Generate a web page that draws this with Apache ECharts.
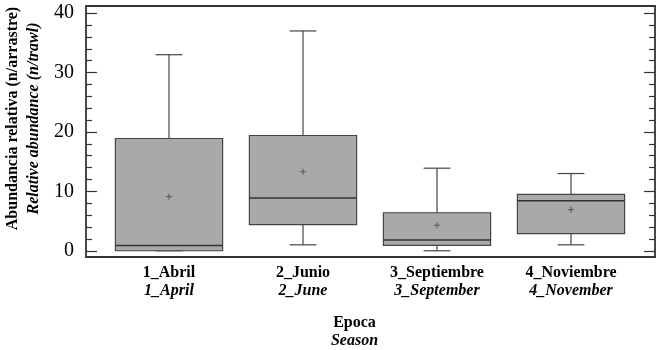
<!DOCTYPE html>
<html>
<head>
<meta charset="utf-8">
<script src="https://cdn.jsdelivr.net/npm/echarts@6/dist/echarts.min.js"></script>
<style>
  html, body { margin: 0; padding: 0; background: #fff; }
  #chart { width: 663px; height: 350px; }
</style>
</head>
<body>
<div id="chart"></div>
<script>
// categorías (español / inglés)
const categories = ['1_Abril', '2_Junio', '3_Septiembre', '4_Noviembre'];
const categoriesEn = ['1_April', '2_June', '3_September', '4_November'];
// estadísticos de cada caja
const whiskerLow = [0, 1, 0, 1];
const q1 = [0, 4.4, 0.9, 2.9];
const medians = [0.9, 8.9, 1.8, 8.4];
const q3 = [18.9, 19.4, 6.4, 9.5];
const whiskerHigh = [33, 37, 13.9, 13];
const means = [9.1, 13.3, 4.3, 6.9];
// ticks del eje y
const majorTicks = [0, 10, 20, 30, 40];
const minorTicks = [2, 4, 6, 8, 12, 14, 16, 18, 22, 24, 26, 28, 32, 34, 36, 38];

const yMin = -1.05;
const yMax = 41.2;
const FONT = 'Liberation Serif';
const LINE = '#444';

const boxData = categories.map((c, i) => [
  i, whiskerLow[i], q1[i], medians[i], q3[i], whiskerHigh[i], means[i]
]);

function renderBox(params, api) {
  const i = api.value(0);
  const band = api.size([1, 0])[0];
  const boxW = band * 0.8;
  const capW = band * 0.2;
  const pLow = api.coord([i, api.value(1)]);
  const pQ1 = api.coord([i, api.value(2)]);
  const pMed = api.coord([i, api.value(3)]);
  const pQ3 = api.coord([i, api.value(4)]);
  const pHigh = api.coord([i, api.value(5)]);
  const pMean = api.coord([i, api.value(6)]);
  const x = pMed[0];
  const st = { stroke: LINE, lineWidth: 1.2, fill: null };
  const line = (x1, y1, x2, y2, style) => ({
    type: 'line',
    shape: { x1: x1, y1: y1, x2: x2, y2: y2 },
    style: style || st
  });
  return {
    type: 'group',
    children: [
      line(x, pQ3[1], x, pHigh[1]),
      line(x, pQ1[1], x, pLow[1]),
      line(x - capW / 2, pHigh[1], x + capW / 2, pHigh[1]),
      line(x - capW / 2, pLow[1], x + capW / 2, pLow[1]),
      {
        type: 'rect',
        shape: { x: x - boxW / 2, y: pQ3[1], width: boxW, height: pQ1[1] - pQ3[1] },
        style: { fill: '#a9a9a9', stroke: LINE, lineWidth: 1.2 }
      },
      line(x - boxW / 2, pMed[1], x + boxW / 2, pMed[1], { stroke: '#333', lineWidth: 1.5 }),
      line(x - 3, pMean[1], x + 3, pMean[1], { stroke: '#555', lineWidth: 1 }),
      line(x, pMean[1] - 3, x, pMean[1] + 3, { stroke: '#555', lineWidth: 1 })
    ]
  };
}

const chart = echarts.init(document.getElementById('chart'));

const frameAxisLine = { show: true, onZero: false, lineStyle: { color: '#333', width: 1.8 } };
const hiddenLine = { show: false, onZero: false };
const noAxis = {
  axisLine: hiddenLine,
  axisTick: { show: false },
  axisLabel: { show: false },
  splitLine: { show: false }
};
const majorTick = { show: true, inside: true, length: 11, customValues: majorTicks, lineStyle: { color: '#333', width: 1.2 } };
const minorTick = { show: true, inside: true, length: 6, customValues: minorTicks, lineStyle: { color: '#333', width: 1.2 } };

const frameRect = { left: 86, right: 8, top: 6, bottom: 93, outerBoundsMode: 'none', containLabel: false };

const option = {
  backgroundColor: '#fff',
  animation: false,
  grid: [
    Object.assign({}, frameRect), // marco + ticks principales
    Object.assign({}, frameRect), // ticks menores
    { left: 102, right: 25, top: 6, bottom: 93, outerBoundsMode: 'none', containLabel: false } // cajas
  ],
  xAxis: [
    {
      gridIndex: 0,
      type: 'value',
      position: 'bottom',
      min: 0,
      max: 1,
      axisLine: frameAxisLine,
      axisTick: { show: false },
      axisLabel: { show: false },
      splitLine: { show: false },
      name: '{a|Epoca}\n{b|Season}',
      nameLocation: 'middle',
      nameGap: 57,
      nameTextStyle: {
        padding: [0, 32, 0, 0],
        rich: {
          a: { fontFamily: FONT, fontSize: 16, fontWeight: 'bold', color: '#000', lineHeight: 18 },
          b: { fontFamily: FONT, fontSize: 16, fontWeight: 'bold', fontStyle: 'italic', color: '#000', lineHeight: 18 }
        }
      }
    },
    {
      gridIndex: 0,
      type: 'value',
      position: 'top',
      min: 0,
      max: 1,
      axisLine: frameAxisLine,
      axisTick: { show: false },
      axisLabel: { show: false },
      splitLine: { show: false }
    },
    Object.assign({ gridIndex: 1, type: 'value', min: 0, max: 1 }, noAxis),
    {
      gridIndex: 2,
      type: 'category',
      data: categories,
      axisLine: hiddenLine,
      axisTick: { show: false },
      axisLabel: {
        margin: 7,
        formatter: function (v, i) {
          return '{a|' + v + '}\n{b|' + categoriesEn[i] + '}';
        },
        rich: {
          a: { fontFamily: FONT, fontSize: 16, fontWeight: 'bold', color: '#000', lineHeight: 18 },
          b: { fontFamily: FONT, fontSize: 16, fontWeight: 'bold', fontStyle: 'italic', color: '#000', lineHeight: 18 }
        }
      }
    }
  ],
  yAxis: [
    {
      gridIndex: 0,
      type: 'value',
      position: 'left',
      min: yMin,
      max: yMax,
      axisLine: frameAxisLine,
      axisTick: majorTick,
      axisLabel: {
        customValues: majorTicks,
        margin: 12,
        fontFamily: FONT,
        fontSize: 20,
        color: '#000'
      },
      splitLine: { show: false },
      name: '{a|Abundancia relativa (n/arrastre)}\n{b|Relative abundance (n/trawl)}',
      nameLocation: 'middle',
      nameGap: 42,
      nameTextStyle: {
        padding: [0, 0, 0, 26],
        rich: {
          a: { fontFamily: FONT, fontSize: 16, fontWeight: 'bold', color: '#000', lineHeight: 21 },
          b: { fontFamily: FONT, fontSize: 16, fontWeight: 'bold', fontStyle: 'italic', color: '#000', lineHeight: 21 }
        }
      }
    },
    {
      gridIndex: 0,
      type: 'value',
      position: 'right',
      min: yMin,
      max: yMax,
      axisLine: frameAxisLine,
      axisTick: majorTick,
      axisLabel: { show: false },
      splitLine: { show: false }
    },
    {
      gridIndex: 1,
      type: 'value',
      position: 'left',
      min: yMin,
      max: yMax,
      axisLine: hiddenLine,
      axisTick: minorTick,
      axisLabel: { show: false },
      splitLine: { show: false }
    },
    {
      gridIndex: 1,
      type: 'value',
      position: 'right',
      min: yMin,
      max: yMax,
      axisLine: hiddenLine,
      axisTick: minorTick,
      axisLabel: { show: false },
      splitLine: { show: false }
    },
    Object.assign({ gridIndex: 2, type: 'value', min: yMin, max: yMax }, noAxis)
  ],
  series: [
    {
      type: 'custom',
      xAxisIndex: 3,
      yAxisIndex: 4,
      renderItem: renderBox,
      encode: { x: 0, y: [1, 2, 3, 4, 5, 6] },
      data: boxData
    }
  ]
};

chart.setOption(option);
window.onresize = function () {
  chart.resize();
};
</script>
</body>
</html>
